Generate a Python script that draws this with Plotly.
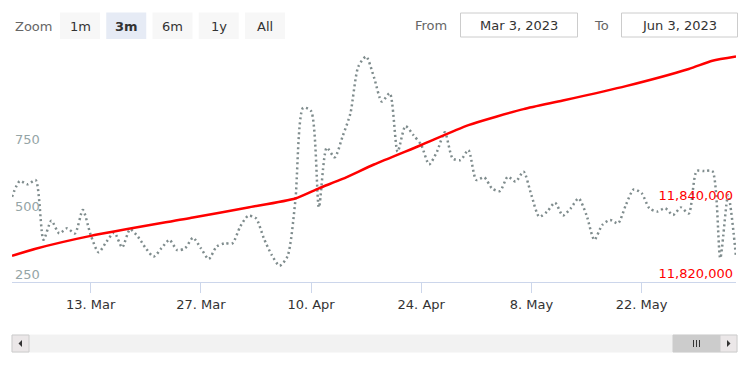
import plotly.graph_objects as go
import pandas as pd

# ---------------- data ----------------
start_date = "2023-03-03"
end_date = "2023-06-03"

gray_values = [
    537, 595, 583, 599, 377, 448, 401, 420, 401, 488,
    395, 331, 370, 404, 349, 416, 389, 346, 315, 346,
    377, 339, 346, 385, 346, 306, 352, 364, 364, 426,
    466, 457, 383, 321, 281, 315, 520, 867, 855, 498,
    719, 683, 760, 846, 1019, 1057, 980, 890, 921, 704,
    799, 766, 729, 657, 704, 776, 679, 673, 710, 599,
    609, 568, 558, 611, 593, 630, 543, 463, 482, 515,
    467, 494, 531, 469, 377, 432, 451, 438, 506, 564,
    550, 494, 482, 494, 469, 497, 475, 632, 632, 632,
    309, 543, 315,
]
gray_dates = pd.date_range(start_date, periods=len(gray_values), freq="D")

red_dates = ["2023-03-03", "2023-03-06", "2023-03-13", "2023-03-26", "2023-04-02",
             "2023-04-08", "2023-04-11", "2023-04-14", "2023-04-18", "2023-04-24",
             "2023-04-30", "2023-05-07", "2023-05-12", "2023-05-20", "2023-05-28",
             "2023-05-31", "2023-06-03"]
red_values = [11824600, 11826400, 11829700, 11834400, 11837000,
              11839300, 11841900, 11844300, 11848000, 11853000,
              11858100, 11862200, 11864400, 11868100, 11872500,
              11874600, 11875700]

x_tick_dates = ["2023-03-13", "2023-03-27", "2023-04-10", "2023-04-24", "2023-05-08", "2023-05-22"]
x_tick_labels = ["13. Mar", "27. Mar", "10. Apr", "24. Apr", "8. May", "22. May"]
left_ticks = [250, 500, 750]
right_ticks = [11820000, 11840000]
right_tick_labels = ["11,820,000", "11,840,000"]
zoom_buttons = ["1m", "3m", "6m", "1y", "All"]
selected_button = "3m"
from_text = "Mar 3, 2023"
to_text = "Jun 3, 2023"

# ---------------- layout geometry ----------------
W, H = 750, 375
ML, MR, MT, MB = 12, 14, 50, 93
PL, PR, PT, PB = ML, W - MR, MT, H - MB
PW, PH = PR - PL, PB - PT


def px(x):
    return (x - PL) / PW


def py(y):
    return (PB - y) / PH


FONT = "DejaVu Sans"

fig = go.Figure()
fig.add_trace(go.Scatter(
    x=gray_dates, y=gray_values, mode="lines", yaxis="y",
    line=dict(color="#7f8c8d", width=2.5, dash="2px,3px", shape="spline", smoothing=0.7),
    showlegend=False, hoverinfo="skip"))
fig.add_trace(go.Scatter(
    x=red_dates, y=red_values, mode="lines", yaxis="y2",
    line=dict(color="#ff0000", width=2.5, shape="spline", smoothing=0.6),
    showlegend=False, hoverinfo="skip"))

shapes = []
annotations = []

# Zoom label
annotations.append(dict(text="Zoom", x=px(12.5), y=py(26), xref="paper", yref="paper",
                        xanchor="left", yanchor="middle", showarrow=False,
                        font=dict(family=FONT, size=13, color="#666666")))
bx0 = 60
for i, b in enumerate(zoom_buttons):
    x0 = bx0 + i * 46.25
    sel = (b == selected_button)
    shapes.append(dict(type="rect", xref="paper", yref="paper",
                       x0=px(x0), x1=px(x0 + 40), y0=py(39), y1=py(12.5),
                       fillcolor="#e6ebf5" if sel else "#f7f7f7", line=dict(width=0), layer="above"))
    annotations.append(dict(text=f"<b>{b}</b>" if sel else b, x=px(x0 + 20), y=py(26),
                            xref="paper", yref="paper", xanchor="center", yanchor="middle",
                            showarrow=False, font=dict(family=FONT, size=13, color="#333333")))

# From / To inputs
annotations.append(dict(text="From", x=px(449), y=py(25.5), xref="paper", yref="paper",
                        xanchor="right", yanchor="middle", showarrow=False,
                        font=dict(family=FONT, size=13, color="#666666")))
annotations.append(dict(text="To", x=px(611), y=py(25.5), xref="paper", yref="paper",
                        xanchor="right", yanchor="middle", showarrow=False,
                        font=dict(family=FONT, size=13, color="#666666")))
for (x0, x1, t) in [(460, 578, from_text), (621, 738, to_text)]:
    shapes.append(dict(type="rect", xref="paper", yref="paper",
                       x0=px(x0 + 0.5), x1=px(x1 - 0.5), y0=py(37), y1=py(13),
                       fillcolor="#ffffff", line=dict(width=1, color="#cccccc"), layer="above"))
    annotations.append(dict(text=t, x=px((x0 + x1) / 2), y=py(25.5), xref="paper", yref="paper",
                            xanchor="center", yanchor="middle", showarrow=False,
                            font=dict(family=FONT, size=13, color="#333333")))

# Scrollbar
sb_top, sb_bot = 335, 352
sb_l, sb_r = 12, 737
bw = sb_bot - sb_top
shapes.append(dict(type="rect", xref="paper", yref="paper", x0=px(sb_l), x1=px(sb_r),
                   y0=py(sb_bot), y1=py(sb_top), fillcolor="#f2f2f2",
                   line=dict(width=1, color="#f2f2f2"), layer="above"))
th_l, th_r = 673, sb_r - bw
shapes.append(dict(type="rect", xref="paper", yref="paper", x0=px(th_l), x1=px(th_r),
                   y0=py(sb_bot), y1=py(sb_top), fillcolor="#cccccc",
                   line=dict(width=1, color="#cccccc"), layer="above"))
gc = (th_l + th_r) / 2
for dx in (-3, 0, 3):
    shapes.append(dict(type="line", xref="paper", yref="paper", x0=px(gc + dx), x1=px(gc + dx),
                       y0=py(sb_top + 5), y1=py(sb_bot - 5), line=dict(width=1, color="#333333"),
                       layer="above"))
for (x0, x1) in [(sb_l, sb_l + bw), (sb_r - bw, sb_r)]:
    shapes.append(dict(type="rect", xref="paper", yref="paper", x0=px(x0), x1=px(x1),
                       y0=py(sb_bot), y1=py(sb_top), fillcolor="#ebe7e8",
                       line=dict(width=1, color="#cccccc"), layer="above"))
cy = (sb_top + sb_bot) / 2
lc = sb_l + bw / 2
rc = sb_r - bw / 2
shapes.append(dict(type="path", xref="paper", yref="paper",
                   path=f"M {px(lc - 2)} {py(cy)} L {px(lc + 1.5)} {py(cy - 3.5)} L {px(lc + 1.5)} {py(cy + 3.5)} Z",
                   fillcolor="#333333", line=dict(width=0), layer="above"))
shapes.append(dict(type="path", xref="paper", yref="paper",
                   path=f"M {px(rc + 2)} {py(cy)} L {px(rc - 1.5)} {py(cy - 3.5)} L {px(rc - 1.5)} {py(cy + 3.5)} Z",
                   fillcolor="#333333", line=dict(width=0), layer="above"))


def left_val(y):
    return 750 - (y - 139.3) * (250 / 67.4)


def right_val(y):
    return 11840000 + (195.7 - y) * (20000 / 78.0)


fig.update_layout(
    width=W, height=H,
    margin=dict(l=ML, r=MR, t=MT, b=MB, pad=0),
    paper_bgcolor="#ffffff", plot_bgcolor="#ffffff",
    font=dict(family=FONT, size=13, color="#333333"),
    xaxis=dict(type="date", range=[start_date, end_date],
               tickvals=x_tick_dates, ticktext=x_tick_labels,
               ticks="outside", ticklen=10, tickcolor="#ccd6eb", tickwidth=1,
               showline=True, linecolor="#ccd6eb", linewidth=1,
               showgrid=False, zeroline=False,
               tickfont=dict(family=FONT, size=13, color="#333333")),
    yaxis=dict(range=[left_val(PB), left_val(PT)], tickvals=left_ticks,
               ticktext=[str(v) for v in left_ticks],
               ticklabelposition="inside", ticks="", showgrid=False, zeroline=False,
               showline=False, tickfont=dict(family=FONT, size=13, color="#95a5a6")),
    yaxis2=dict(range=[right_val(PB), right_val(PT)], tickvals=right_ticks,
                ticktext=right_tick_labels, overlaying="y", side="right",
                ticklabelposition="inside", ticks="", showgrid=False, zeroline=False,
                showline=False, tickfont=dict(family=FONT, size=13, color="#ff0000")),
    shapes=shapes, annotations=annotations,
)

fig.write_html("out.html", config={"displayModeBar": False},
               post_script="document.body.style.margin='0';document.body.style.overflow='hidden';")
